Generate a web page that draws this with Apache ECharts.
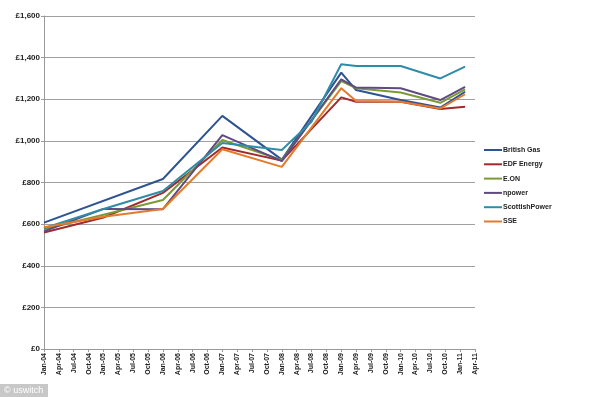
<!DOCTYPE html>
<html>
<head>
<meta charset="utf-8">
<script src="https://cdn.jsdelivr.net/npm/echarts@6/dist/echarts.min.js"></script>
<style>html,body{margin:0;padding:0;background:#fff}#c{width:600px;height:397px}</style>
</head>
<body>
<div id="c"></div>
<script>
// Monthly category axis Jan-04 .. Apr-11; labels every 3rd month
const monthNames = ['Jan','Feb','Mar','Apr','May','Jun','Jul','Aug','Sep','Oct','Nov','Dec'];
const categories = [];
for (let y = 4; y <= 11; y++) {
  for (let m = 0; m < 12; m++) {
    if (y === 11 && m > 3) break;
    categories.push(monthNames[m] + '-' + (y < 10 ? '0' + y : y));
  }
}
// Months at which the series change direction
const pointMonths = ['Jan-04','Jan-05','Jan-06','Jan-07','Jan-08','Jul-08','Jan-09','Apr-09','Jan-10','Sep-10','Feb-11'];
const britishGas    = [607, null, 817, 1120, 910, null, 1328, 1244, 1196, 1160, 1236];
const edfEnergy     = [560, 632, 750, 968, 905, null, 1209, 1188, 1188, 1153, 1164];
const eon           = [575, 645, 716, 1004, 908, null, 1287, 1253, 1232, 1183, 1248];
const npower        = [565, 673, 672, 1028, 903, null, 1296, 1256, 1253, 1196, 1260];
const scottishPower = [580, 673, 759, 990, 956, 1092, 1368, 1360, 1360, 1300, 1357];
const sse           = [585, 635, 673, 960, 875, null, 1253, 1192, 1188, 1156, 1224];
const seriesNames = ['British Gas','EDF Energy','E.ON','npower','ScottishPower','SSE'];
const seriesValues = [britishGas, edfEnergy, eon, npower, scottishPower, sse];
const colors = ['#2D5391','#A12A2C','#7B9A35','#5F4A82','#2F8CA8','#E37B2C'];

function toMonthly(vals) {
  const arr = categories.map(() => null);
  pointMonths.forEach((m, i) => { arr[categories.indexOf(m)] = vals[i]; });
  return arr;
}

const chart = echarts.init(document.getElementById('c'));
chart.setOption({
  animation: false,
  color: colors,
  grid: { left: 44, right: 125, top: 16, bottom: 48, containLabel: false },
  legend: {
    orient: 'vertical', left: 479, top: 141,
    icon: 'rect', itemWidth: 18, itemHeight: 2, itemGap: 6.3,
    textStyle: { fontFamily: 'Liberation Sans', fontWeight: 'bold', fontSize: 7, lineHeight: 8, color: '#222', padding: [0,0,0,-4] },
    data: seriesNames
  },
  xAxis: {
    type: 'category', boundaryGap: false, data: categories,
    axisLine: { lineStyle: { color: '#999', width: 1 } },
    axisTick: { interval: 2, length: 3, lineStyle: { color: '#999' } },
    axisLabel: { interval: 2, rotate: 90, margin: 4, fontFamily: 'Liberation Sans', fontWeight: 'bold', fontSize: 7, color: '#222' },
    splitLine: { show: false }
  },
  yAxis: {
    type: 'value', min: 0, max: 1600, interval: 200,
    axisLine: { show: true, lineStyle: { color: '#999', width: 1 } },
    axisTick: { show: true, length: 3, lineStyle: { color: '#999' } },
    axisLabel: { margin: 4, fontFamily: 'Liberation Sans', fontWeight: 'bold', fontSize: 8, color: '#222',
      formatter: v => '£' + v.toLocaleString('en-GB') },
    splitLine: { lineStyle: { color: '#a0a0a0', width: 1 } }
  },
  series: seriesNames.map((n, i) => ({
    name: n, type: 'line', data: toMonthly(seriesValues[i]),
    connectNulls: true, showSymbol: false, symbol: 'none',
    lineStyle: { width: 2, color: colors[i] }
  })),
  graphic: [
    { type: 'rect', left: 0, top: 384, shape: { width: 48, height: 13 }, style: { fill: '#c8c8c8' } },
    { type: 'text', left: 4, top: 386, style: { text: '© uswitch', fill: '#fff', font: '9px "Liberation Sans"' } }
  ]
});
</script>
</body>
</html>
